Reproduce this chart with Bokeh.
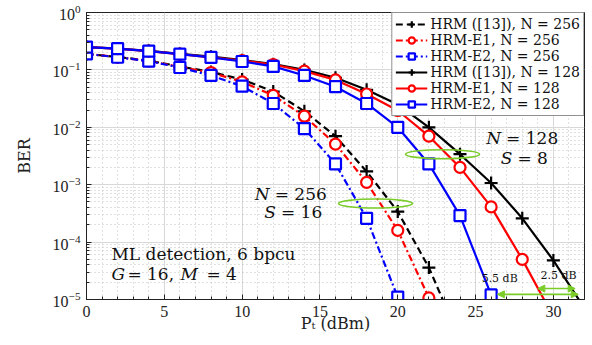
from bokeh.plotting import figure
from bokeh.models import (Legend, LegendItem, Label, Arrow, NormalHead, Range1d, FixedTicker)
from bokeh.embed import file_html
from bokeh.resources import INLINE

# ---------------- data ----------------
x_hrm128 = [0, 2, 4, 6, 8, 10, 12, 14, 16, 18, 20, 22, 24, 26, 28, 30, 32]
ber_hrm128 = [0.25, 0.235, 0.215, 0.19, 0.17, 0.148, 0.126, 0.1, 0.073, 0.045, 0.025, 0.01,
              3.4e-3, 1.07e-3, 2.6e-4, 4.8e-5, 7e-6]
x_e1_128 = [0, 2, 4, 6, 8, 10, 12, 14, 16, 18, 20, 22, 24, 26, 28, 30]
ber_e1_128 = [0.25, 0.235, 0.213, 0.188, 0.165, 0.145, 0.124, 0.095, 0.067, 0.038, 0.0196,
              7e-3, 2e-3, 4.1e-4, 5e-5, 5e-6]
x_e2_128 = [0, 2, 4, 6, 8, 10, 12, 14, 16, 18, 20, 22, 24, 26]
ber_e2_128 = [0.25, 0.235, 0.213, 0.188, 0.165, 0.14, 0.115, 0.08, 0.051, 0.026, 0.01,
              2.3e-3, 2.9e-4, 1.2e-5]
x_hrm256 = [0, 2, 4, 6, 8, 10, 12, 14, 16, 18, 20, 22, 24]
ber_hrm256 = [0.19, 0.168, 0.145, 0.115, 0.092, 0.068, 0.042, 0.019, 7e-3, 1.7e-3, 3.4e-4,
              3.6e-5, 2e-6]
x_e1_256 = [0, 2, 4, 6, 8, 10, 12, 14, 16, 18, 20, 22]
ber_e1_256 = [0.19, 0.167, 0.143, 0.113, 0.09, 0.062, 0.036, 0.0156, 5.1e-3, 1.1e-3, 1.6e-4,
              1.07e-5]
x_e2_256 = [0, 2, 4, 6, 8, 10, 12, 14, 16, 18, 20]
ber_e2_256 = [0.19, 0.166, 0.142, 0.11, 0.08, 0.052, 0.026, 0.0095, 2.3e-3, 2.6e-4, 1.1e-5]

legend_labels = ["HRM ([13]), N = 256", "HRM-E1, N = 256", "HRM-E2, N = 256",
                 "HRM ([13]), N = 128", "HRM-E1, N = 128", "HRM-E2, N = 128"]
x_ticks = [0, 5, 10, 15, 20, 25, 30]

FONT = "DejaVu Serif"
TFONT = "Liberation Serif"
GREEN = "#7acc29"

p = figure(width=585, height=337, y_axis_type="log", output_backend="svg",
           toolbar_location=None, x_range=Range1d(0, 32), y_range=Range1d(1e-5, 1),
           min_border_left=86, min_border_right=1, min_border_top=12, min_border_bottom=38)
p.outline_line_color = "#222222"

for ax in (p.xaxis[0], p.yaxis[0]):
    ax.major_tick_in = 5
    ax.major_tick_out = 0
    ax.minor_tick_in = 3
    ax.minor_tick_out = 0
    ax.major_label_text_font = TFONT
    ax.major_label_text_font_size = "16px"
    ax.major_label_text_color = "#222222"
    ax.axis_label_text_font = FONT
    ax.axis_label_text_font_size = "16px"
    ax.axis_label_text_font_style = "normal"
    ax.axis_label_text_color = "#222222"
    ax.axis_line_color = "#222222"
    ax.major_tick_line_color = "#222222"
    ax.minor_tick_line_color = "#222222"
p.xaxis[0].ticker = FixedTicker(ticks=x_ticks, minor_ticks=list(range(0, 33)))
p.yaxis[0].ticker.desired_num_ticks = 6
p.xaxis[0].axis_label = "Pₜ (dBm)"
p.yaxis[0].axis_label = "BER"
p.xaxis[0].major_label_standoff = 6
p.yaxis[0].major_label_standoff = 6
p.xaxis[0].axis_label_standoff = -6
p.yaxis[0].axis_label_standoff = 16

p.xgrid.grid_line_color = "#d8d8d8"
p.ygrid.grid_line_color = "#d8d8d8"
p.xgrid.minor_grid_line_color = "#c0c0c0"
p.ygrid.minor_grid_line_color = "#c0c0c0"
p.xgrid.minor_grid_line_dash = "1 3"
p.ygrid.minor_grid_line_dash = "1 3"

series = [
    (x_hrm256, ber_hrm256, "black", "7 4", "cross"),
    (x_e1_256, ber_e1_256, "red", "7 3 2 3", "circle"),
    (x_e2_256, ber_e2_256, "blue", "7 3 2 3", "square"),
    (x_hrm128, ber_hrm128, "black", "solid", "cross"),
    (x_e1_128, ber_e1_128, "red", "solid", "circle"),
    (x_e2_128, ber_e2_128, "blue", "solid", "square"),
]
items = []
for (xs, ys, col, dash, mk), lab in zip(series, legend_labels):
    l = p.line(xs, ys, line_color=col, line_width=2.2, line_dash=dash)
    sz = 13 if mk == "cross" else 11
    s = p.scatter(xs, ys, marker=mk, size=sz, line_color=col, line_width=2.2,
                  fill_color="white")
    items.append(LegendItem(label=lab, renderers=[l, s]))

# ellipses
p.ellipse(x=[22.88, 18.57], y=[3.4e-3, 4.7e-4], width=74, height=9,
          width_units="screen", height_units="screen", fill_alpha=0,
          line_color=GREEN, line_width=1.6)

# arrows
for xs_, xe_, yy in [(26.4, 31.6, 1.23e-5), (29.0, 31.4, 1.55e-5)]:
    p.add_layout(Arrow(start=NormalHead(size=7, fill_color=GREEN, line_color=GREEN),
                       end=NormalHead(size=7, fill_color=GREEN, line_color=GREEN),
                       x_start=xs_, x_end=xe_, y_start=yy, y_end=yy,
                       line_color=GREEN, line_width=1.6))

def lab(x, y, text, xoff=0, align="left", italic=False, size="17px"):
    p.add_layout(Label(x=x, y=y, text=text, x_offset=xoff, text_align=align,
                       text_baseline="middle", text_font=FONT, text_font_size=size,
                       text_font_style="italic" if italic else "normal",
                       text_color="#111111"))

# annotations
lab(1.6, 6.3e-5, "ML detection, 6 bpcu")
lab(1.6, 2.8e-5, "G", italic=True)
lab(1.6, 2.8e-5, "= 16,", xoff=16)
lab(1.6, 2.8e-5, "M", xoff=69, italic=True)
lab(1.6, 2.8e-5, "= 4", xoff=95)

lab(11.9, 7.0e-4, "N", xoff=-2, align="right", italic=True)
lab(11.9, 7.0e-4, "= 256", xoff=3)
lab(12.3, 3.4e-4, "S", xoff=-2, align="right", italic=True)
lab(12.3, 3.4e-4, "= 16", xoff=3)

lab(26.77, 6.6e-3, "N", xoff=-2, align="right", italic=True)
lab(26.77, 6.6e-3, "= 128", xoff=3)
lab(27.5, 2.97e-3, "S", xoff=-2, align="right", italic=True)
lab(27.5, 2.97e-3, "= 8", xoff=3)

lab(26.55, 2.3e-5, "5.5 dB", align="center", size="11px")
lab(30.33, 2.6e-5, "2.5 dB", align="center", size="11px")

legend = Legend(items=items, location="top_right", label_text_font=FONT,
                label_text_font_size="14px", label_text_color="#111111",
                border_line_color="#222222",
                border_line_width=1, padding=3, spacing=0, margin=0,
                label_height=16, glyph_height=16, glyph_width=32, label_standoff=3,
                background_fill_alpha=1)
p.add_layout(legend)

open("out.html", "w").write(file_html(p, INLINE))
